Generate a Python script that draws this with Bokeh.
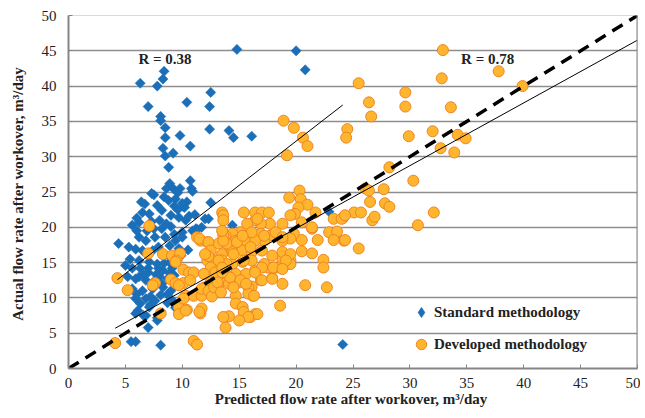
import numpy as np
from bokeh.plotting import figure
from bokeh.models import Range1d, Span, Label, Legend, LegendItem, SingleIntervalTicker
from bokeh.embed import file_html
from bokeh.resources import INLINE

# ---- data ----
std_x = [14.8, 20.0, 20.8, 8.4, 8.3, 6.3, 7.8, 12.5, 10.4, 7.0, 12.4, 8.1, 8.1, 8.5, 12.4, 14.1, 14.5, 16.1,
         9.8, 8.5, 10.7, 8.3, 8.5, 9.2, 8.8, 10.7, 8.6, 9.2, 9.8, 10.8, 22.9, 24.1,
         10.9, 8.4, 9.4, 10.4, 7.8, 12.5, 6.5, 7.1, 8.2, 9.0, 9.7, 10.3, 12.3, 5.6, 6.2, 7.5, 8.2, 9.0,
         10.0, 10.9, 11.7, 4.4, 6.2, 6.8, 7.6, 8.5, 9.4, 10.0, 5.9, 6.5, 7.4, 7.9, 5.4, 6.2, 7.1, 7.8,
         5.6, 6.3, 7.0, 7.9, 7.0, 8.3, 9.1, 5.9, 6.8, 7.6, 8.7, 5.6, 6.5, 7.4, 8.3, 9.0, 5.9, 6.8, 7.6,
         8.7, 6.1, 6.8, 7.8, 9.4, 7.0, 5.5, 5.9, 8.1, 14.4, 11.3, 5.9, 6.6, 7.1, 7.8, 9.3, 10.0, 11.2,
         12.0, 9.9, 10.5, 9.0, 8.4, 8.9, 9.7, 6.0, 6.9, 7.3, 8.0, 8.6, 9.3, 6.6, 7.3, 8.0, 8.9, 5.2,
         6.0, 7.2, 8.1, 6.4, 7.5, 8.8, 9.6, 10.2,
         5.0, 5.3, 6.0, 6.7, 7.3, 8.9, 9.6, 10.1, 10.6, 11.1, 8.4, 8.9, 9.3, 8.7, 9.1, 7.2, 6.3, 6.2, 8.2, 7.7]
std_y = [45.2, 45.0, 42.3, 42.1, 41.0, 40.4, 40.0, 39.1, 37.7, 37.1, 37.1, 35.7, 35.1, 34.1, 33.9, 33.7, 32.7, 32.9,
         33.0, 32.7, 31.5, 31.2, 30.1, 30.5, 28.5, 26.6, 25.5, 25.5, 25.5, 25.5, 22.2, 3.4,
         25.1, 24.3, 24.0, 23.6, 23.1, 23.5, 22.1, 21.9, 22.4, 21.7, 21.4, 21.0, 21.2, 20.3, 20.7, 19.8, 19.8, 20.1,
         19.3, 19.5, 20.0, 17.7, 18.6, 18.1, 18.6, 18.6, 18.1, 18.6, 16.9, 16.7, 16.7, 17.2, 15.5, 15.3, 15.1, 14.8,
         14.2, 14.2, 14.2, 14.2, 13.6, 13.9, 14.2, 12.7, 12.5, 12.5, 12.7, 11.3, 11.0, 11.3, 11.5, 11.0, 9.9, 9.9, 9.6,
         9.3, 8.2, 7.5, 7.2, 8.6, 5.8, 3.8, 3.8, 3.3, 20.3, 19.7, 7.8, 7.5, 8.7, 6.8, 23.0, 23.4, 19.8,
         21.2, 16.0, 16.8, 15.6, 16.0, 17.4, 17.0, 19.5, 19.5, 20.8, 21.0, 20.5, 19.0, 13.3, 12.0, 13.0, 13.5, 13.0,
         10.5, 10.2, 10.4, 23.6, 24.6, 23.8, 22.5, 22.8,
         14.6, 17.2, 21.3, 23.3, 24.8, 26.2, 24.9, 22.9, 21.6, 21.8, 14.9, 15.0, 13.2, 10.5, 9.7, 9.0, 9.2, 13.0, 12.0, 13.3]

dev_x = [32.9, 32.8, 25.5, 29.6, 29.6, 26.4, 26.6, 33.6, 18.9, 19.8, 20.6, 21.0, 19.2, 24.5, 24.4, 29.9, 32.0, 32.7,
         28.2, 30.3, 26.1, 27.7, 20.3, 37.8, 39.9, 34.2, 34.9, 33.9,
         26.4, 26.5, 27.8, 28.2, 25.1, 25.7, 24.1, 26.7, 26.9, 32.1, 30.7, 24.2, 25.5,
         19.4, 20.4, 21.0, 20.2, 21.7, 19.9, 19.5, 23.3, 24.0, 24.3,
         20.5, 18.8, 17.7, 16.9, 16.4, 21.4, 22.9, 23.6, 24.3, 23.3, 20.5, 21.4, 21.9, 19.8, 19.5, 18.8, 17.7, 16.9,
         17.2, 20.5, 21.4, 22.4, 22.4, 19.5, 18.8, 19.2, 18.3, 17.5, 17.2, 16.4, 19.5, 17.9, 16.9, 18.8, 20.8, 22.7,
         16.1, 16.2, 18.6, 16.4, 16.0,
         16.4, 17.0, 17.6, 15.4, 13.5, 13.6, 15.7, 16.0, 15.1, 14.4, 13.8, 14.7, 15.6, 16.4, 17.2, 18.2, 18.8,
         13.2, 14.1, 13.5, 14.4, 15.3, 16.1, 17.0, 17.9, 18.8, 19.5, 19.1, 13.5, 14.4, 15.3, 16.1, 17.0, 18.0, 18.8,
         13.8, 14.7, 15.6, 16.4, 13.2, 14.1, 15.0, 15.8, 17.0, 17.9, 14.7, 15.8, 14.7, 15.3, 15.4, 16.6, 15.8, 15.0,
         14.1, 13.8,
         4.1, 11.0, 11.3, 4.3, 5.2, 7.1, 7.0, 7.6, 7.4, 8.1, 9.0, 8.3, 9.1, 9.8, 9.5, 10.1, 10.6, 11.0, 9.4, 10.1,
         10.3, 11.0, 11.7, 12.0, 12.5, 9.7, 9.7, 10.4, 11.6, 11.7, 11.3, 11.6, 12.2, 12.2, 12.9, 13.1, 12.5,
         16.6, 16.1, 13.6, 13.9, 14.8, 15.3, 16.0, 14.5, 15.4, 13.9, 13.6, 14.2, 15.1, 14.5, 15.6, 16.3,
         10.7, 11.7, 12.3, 12.6, 11.9, 12.9, 13.5, 10.3, 10.1, 11.5, 13.6, 12.8, 13.1, 13.4, 9.7,
         11.5, 12.3, 12.5, 12.3, 13.2, 13.5, 13.6, 13.5, 13.6, 12.0, 9.4]
dev_y = [45.1, 41.1, 40.4, 39.1, 37.1, 37.7, 35.7, 37.0, 35.1, 34.1, 32.7, 31.5, 30.2, 33.9, 32.7, 32.9, 33.6, 31.2,
         28.5, 26.6, 25.5, 25.4, 25.2, 42.1, 40.0, 33.1, 32.6, 30.6,
         25.2, 23.6, 23.4, 22.9, 22.1, 22.1, 21.3, 21.0, 21.5, 22.1, 20.3, 18.1, 17.0,
         24.2, 24.0, 23.2, 22.8, 22.1, 21.9, 21.7, 21.2, 21.2, 21.7,
         20.7, 20.5, 20.5, 20.5, 21.0, 19.8, 19.3, 19.4, 18.2, 18.2, 18.2, 20.0, 18.2, 19.1, 18.4, 18.1, 18.8, 19.1,
         18.1, 16.6, 16.3, 15.4, 14.3, 15.3, 15.5, 14.8, 14.3, 14.3, 14.8, 13.9, 14.8, 12.8, 12.5, 12.0, 11.8, 11.5,
         11.6, 10.3, 8.9, 7.7, 7.3,
         22.1, 22.1, 22.1, 22.1, 22.1, 21.7, 20.5, 19.1, 19.3, 19.1, 18.8, 18.1, 17.9, 18.1, 18.8, 19.3, 18.6,
         17.7, 17.4, 16.2, 16.5, 16.7, 16.5, 16.7, 16.0, 16.5, 16.2, 15.3, 15.3, 14.8, 15.1, 15.3, 14.3, 14.3, 14.1,
         13.4, 13.4, 13.4, 13.6, 12.0, 12.0, 12.2, 11.5, 12.5, 12.7, 10.3, 10.6, 9.2, 8.7, 8.0, 7.7, 7.3, 6.8,
         7.4, 5.8,
         3.6, 3.9, 3.4, 12.8, 11.1, 20.2, 16.3, 12.1, 11.8, 7.8, 12.6, 16.2, 16.0, 16.3, 15.3, 14.0, 13.6, 13.6, 12.1, 12.1,
         10.3, 10.3, 10.3, 11.5, 12.2, 8.7, 7.7, 8.3, 7.8, 8.5, 18.6, 18.1, 17.9, 15.3, 15.3, 13.4, 14.3,
         21.2, 19.3, 18.8, 17.7, 17.9, 18.8, 17.2, 16.2, 15.3, 14.8, 13.6, 12.9, 12.5, 11.5, 12.0, 10.3,
         12.5, 11.3, 11.0, 10.2, 13.4, 13.6, 13.6, 8.2, 9.9, 8.0, 7.3, 11.5, 12.2, 10.8, 11.8,
         18.4, 17.9, 16.7, 15.9, 15.3, 14.3, 18.1, 19.5, 21.0, 16.2, 15.1]

# linear trend lines: slope, intercept, x start, x end
std_fit = [1.25, 7.2, 4.3, 24.1]
dev_fit = [0.889, 2.06, 4.1, 50.0]
r_labels = ["R = 0.38", "R = 0.78"]
series_names = ["Standard methodology", "Developed methodology"]

SERIF = "Liberation Serif"
BLUE = "#1a6fb8"
ORANGE_FILL = "#ffb52e"
ORANGE_LINE = "#ee8522"
GRAY = "#858585"

p = figure(width=640, height=416, output_backend="svg", toolbar_location=None,
           x_range=Range1d(0, 50), y_range=Range1d(0, 50),
           min_border_left=68, min_border_right=3, min_border_top=15, min_border_bottom=48)
p.background_fill_color = "white"
p.border_fill_color = "white"
p.outline_line_color = "#d9d9d9"
p.outline_line_width = 1

p.xgrid.grid_line_color = None
p.ygrid.ticker = SingleIntervalTicker(interval=5)
p.ygrid.grid_line_color = "#8e8e8e"
p.ygrid.grid_line_width = 1.4

for ax in (p.xaxis[0], p.yaxis[0]):
    ax.ticker = SingleIntervalTicker(interval=5)
    ax.axis_line_color = GRAY
    ax.axis_line_width = 2
    ax.major_tick_in = 4
    ax.major_tick_out = 0
    ax.major_tick_line_color = GRAY
    ax.minor_tick_line_color = None
    ax.major_label_text_font = SERIF
    ax.major_label_text_font_size = "15px"
    ax.major_label_text_color = "#222222"
    ax.axis_label_text_font = SERIF
    ax.axis_label_text_font_size = "15px"
    ax.axis_label_text_font_style = "bold"
    ax.axis_label_text_color = "#222222"

p.xaxis.axis_label = "Predicted flow rate  after workover, m\u00b3/day"
p.yaxis.axis_label = "Actual flow rate  after workover, m\u00b3/day"
p.xaxis.major_label_standoff = 5
p.xaxis.axis_label_standoff = 0
p.yaxis.major_label_standoff = 8
p.yaxis.axis_label_standoff = 13

# right frame edge
p.add_layout(Span(location=50, dimension="height", line_color=GRAY, line_width=2))

r_std = p.scatter(std_x, std_y, marker="square", angle=np.pi / 4, size=7.2,
                  fill_color=BLUE, line_color=BLUE, line_width=0.5)
r_dev = p.scatter(dev_x, dev_y, marker="circle", size=11,
                  fill_color=ORANGE_FILL, line_color=ORANGE_LINE, line_width=1)

# legend proxy for the diamond symbol (no visible point on the plot)
r_std_key = p.scatter([np.nan], [np.nan], marker="diamond", size=10,
                      fill_color=BLUE, line_color=BLUE, line_width=0.5)

# trend lines
sx = np.array(std_fit[2:4])
p.line(sx, std_fit[0] * sx + std_fit[1], line_color="black", line_width=1)
dx = np.array(dev_fit[2:4])
p.line(dx, dev_fit[0] * dx + dev_fit[1], line_color="black", line_width=1)
# 1:1 line
p.line([0, 50], [0, 50], line_color="black", line_width=3.5, line_dash="12 8")

p.add_layout(Label(x=6.15, y=43.9, text=r_labels[0], text_font=SERIF, text_font_size="15px",
                   text_font_style="bold", text_baseline="middle", text_color="#222222"))
p.add_layout(Label(x=34.5, y=43.9, text=r_labels[1], text_font=SERIF, text_font_size="15px",
                   text_font_style="bold", text_baseline="middle", text_color="#222222"))

legend = Legend(items=[LegendItem(label=series_names[0], renderers=[r_std_key]),
                       LegendItem(label=series_names[1], renderers=[r_dev])],
                location=(340, 11), padding=0, margin=0, spacing=6,
                glyph_width=26, glyph_height=26, label_height=20, label_standoff=0,
                background_fill_alpha=0, border_line_alpha=0,
                label_text_font=SERIF, label_text_font_size="15px", label_text_font_style="bold",
                label_text_color="#222222")
p.add_layout(legend)

open("out.html", "w").write(file_html(p, INLINE))
